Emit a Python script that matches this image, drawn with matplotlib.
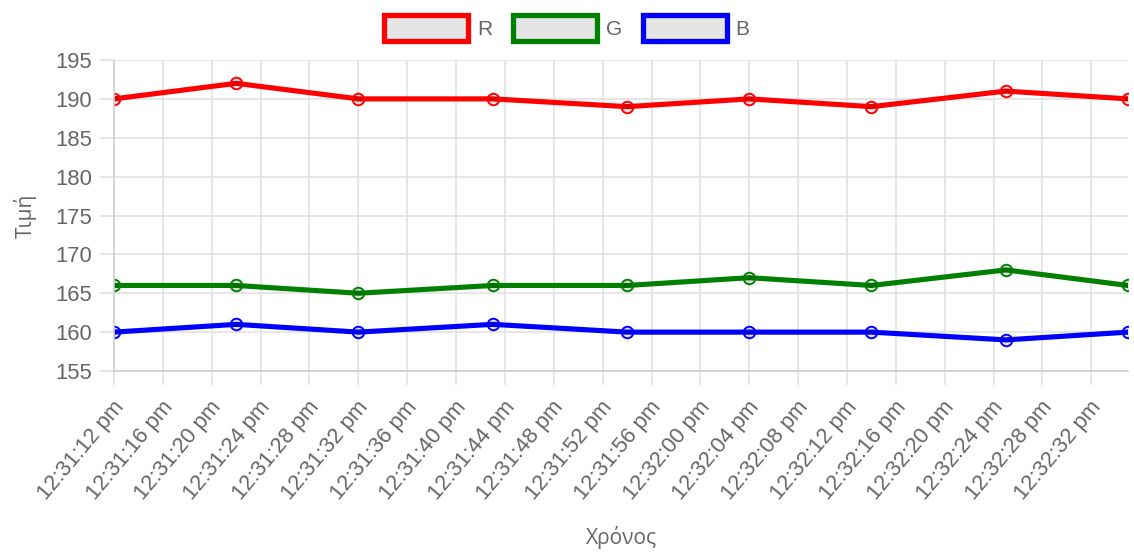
import datetime as dt
import matplotlib
matplotlib.use("Agg")
import matplotlib.pyplot as plt
import matplotlib.dates as mdates
import matplotlib.transforms as mtransforms
from matplotlib.patches import Patch

# sample times, seconds after the first reading at 12:31:12
start = dt.datetime(2024, 1, 1, 12, 31, 12)
offsets = [0, 10, 20, 31, 42, 52, 62, 73, 83]
times = [start + dt.timedelta(seconds=s) for s in offsets]

r_vals = [190, 192, 190, 190, 189, 190, 189, 191, 190]
g_vals = [166, 166, 165, 166, 166, 167, 166, 168, 166]
b_vals = [160, 161, 160, 161, 160, 160, 160, 159, 160]

series = [("R", r_vals, "#ff0000"), ("G", g_vals, "#008000"), ("B", b_vals, "#0000ff")]

TXT = "#666666"
GRID = "#e2e2e2"
FS = 15.1
TICK_FS = 15.8

plt.rcParams["font.family"] = ["Liberation Sans", "DejaVu Sans"]

fig = plt.figure(figsize=(11.34, 5.53), dpi=100)
ax = fig.add_axes([114 / 1134, 1 - 371 / 553, 1014 / 1134, 311 / 553])

for name, vals, col in series:
    ax.plot(times, vals, color=col, lw=3.7, marker="o", ms=8.3,
            mfc=(0, 0, 0, 0.1), mec=col, mew=1.4, solid_joinstyle="miter")

ax.set_xlim(times[0], times[-1])
ax.set_ylim(155, 195)
ax.set_yticks(range(155, 196, 5))

ax.xaxis.set_major_locator(mdates.SecondLocator(bysecond=range(0, 60, 4)))
ax.xaxis.set_major_formatter(plt.FuncFormatter(
    lambda x, pos: mdates.num2date(x).strftime("%I:%M:%S %p").lower()))

ax.grid(True, color=GRID, lw=1.2)
ax.set_axisbelow(True)
for side in ["top", "right"]:
    ax.spines[side].set_visible(False)
for side in ["left", "bottom"]:
    ax.spines[side].set_color("#cfcfcf")
    ax.spines[side].set_linewidth(1.2)

ax.tick_params(axis="both", length=10, width=1.2, color=GRID, labelcolor=TXT, labelsize=TICK_FS)
ax.tick_params(axis="y", pad=6)
ax.tick_params(axis="x", pad=13.5)
# nudge the rotated time labels a little to the right of their ticks
shift = mtransforms.ScaledTranslation(4.5 / 72, 0, fig.dpi_scale_trans)
for lab in ax.get_xticklabels():
    lab.set_rotation(50)
    lab.set_ha("right")
    lab.set_va("center")
    lab.set_rotation_mode("anchor")
    lab.set_transform(lab.get_transform() + shift)

ax.set_xlabel("Χρόνος", fontsize=FS, color=TXT, family=["Open Sans", "DejaVu Sans"])
ax.set_ylabel("Τιμή", fontsize=FS, color=TXT, family=["Open Sans", "DejaVu Sans"])
ax.xaxis.set_label_coords(0.5, -(526 - 371) / 311)
ax.yaxis.set_label_coords(-(114 - 37) / 1014, 0.5)

handles = [Patch(facecolor=(0, 0, 0, 0.1), edgecolor=col, linewidth=3.8, label=name)
           for name, vals, col in series]
fig.legend(handles=handles, loc="center", bbox_to_anchor=(0.5, 1 - 28 / 553),
           ncol=3, frameon=False, fontsize=FS, labelcolor=TXT,
           handlelength=4.0, handleheight=1.6, handletextpad=0.42,
           columnspacing=1.0, borderpad=0, borderaxespad=0)

fig.savefig("out.png", dpi=100)
